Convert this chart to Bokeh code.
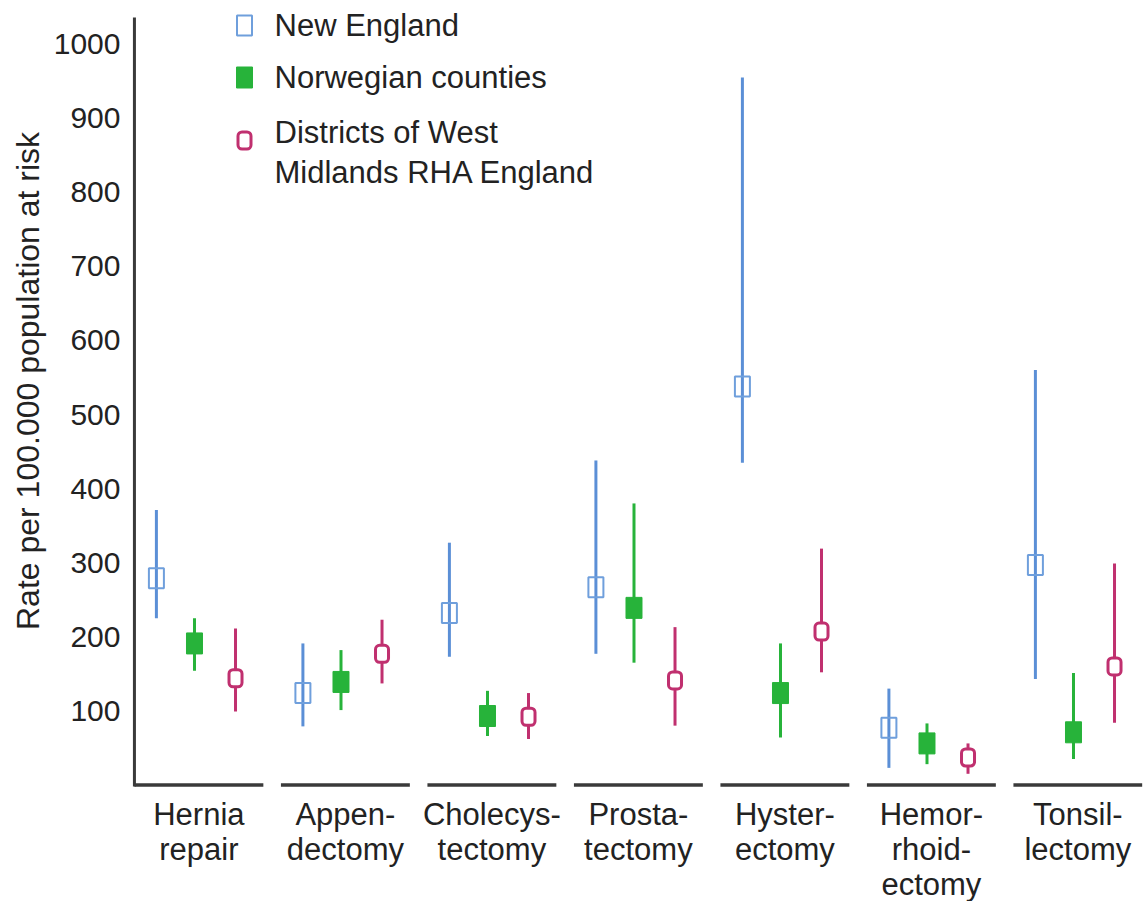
import math
from bokeh.plotting import figure
from bokeh.layouts import row
from bokeh.models import Range1d, FixedTicker, Rect
from bokeh.core.properties import value
from bokeh.embed import file_html
from bokeh.resources import INLINE

# ---------------- data ----------------
categories = ["Hernia\nrepair", "Appen-\ndectomy", "Cholecys-\ntectomy", "Prosta-\ntectomy",
              "Hyster-\nectomy", "Hemor-\nrhoid-\nectomy", "Tonsil-\nlectomy"]
series_names = ["New England", "Norwegian counties", "Districts of West\nMidlands RHA England"]

new_england_mid = [279, 124, 232, 267, 538, 77, 297]
new_england_lo = [225, 79, 173, 177, 435, 23, 143]
new_england_hi = [371, 191, 327, 438, 955, 130, 560]

norway_mid = [191, 139, 93, 239, 124, 56, 71]
norway_lo = [154, 101, 66, 165, 64, 28, 35]
norway_hi = [225, 182, 127, 380, 191, 83, 151]

west_midlands_mid = [144, 177, 92, 141, 207, 37, 160]
west_midlands_lo = [99, 137, 62, 80, 152, 15, 84]
west_midlands_hi = [211, 223, 124, 213, 319, 56, 299]

y_ticks = [100, 200, 300, 400, 500, 600, 700, 800, 900, 1000]
y_title = "Rate per 100.000 population  at risk"

# ---------------- layout ----------------
FONT = "Liberation Sans"
TEXT = "#222222"
AXIS = "#3a3a3a"
BLUE = "#5b8fd6"
GREEN = "#27b33a"
MAGENTA = "#c0306f"

H = 901
TW = 50                    # width of the title strip
W = 1094                   # main figure width
BL, BR = 81, 2
FRAME_LEFT = TW + BL       # page px of the plotting frame's left edge
X0 = -0.46
PX_X = 146.5               # pixels per category
PX_Y = 0.7407              # pixels per unit
BASE_PX = 784.4            # page px of value 0
Y_TOP = BASE_PX / PX_Y
frame_w = W - BL - BR
x_end = X0 + frame_w / PX_X
y_start = Y_TOP - H / PX_Y


def x_at(px):
    return X0 + (px - FRAME_LEFT) / PX_X


def y_at(px):
    return Y_TOP - px / PX_Y


# --- strip holding the vertical axis title ---
t = figure(width=TW, height=H, x_range=Range1d(0, TW), y_range=Range1d(H, 0),
           output_backend="svg", toolbar_location=None,
           min_border_left=0, min_border_right=0, min_border_top=0, min_border_bottom=0)
t.axis.visible = False
t.grid.visible = False
t.outline_line_color = None
t.text(x=[27], y=[376], text=[y_title], angle=math.pi / 2, text_align="center",
       text_baseline="middle", text_font=value(FONT), text_font_size="32px", text_color=TEXT)

# --- main chart ---
p = figure(width=W, height=H, x_range=Range1d(X0, x_end), y_range=Range1d(y_start, Y_TOP),
           output_backend="svg", toolbar_location=None,
           min_border_left=BL, min_border_right=BR, min_border_top=0, min_border_bottom=0)
p.outline_line_color = None
p.xgrid.visible = False
p.ygrid.visible = False
p.xaxis.visible = False

yax = p.yaxis[0]
yax.ticker = FixedTicker(ticks=y_ticks)
yax.axis_line_color = None
yax.major_tick_line_color = None
yax.minor_tick_line_color = None
yax.major_tick_out = 0
yax.major_tick_in = 0
yax.major_label_standoff = 11
yax.major_label_text_font = FONT
yax.major_label_text_font_size = "30px"
yax.major_label_text_color = TEXT

n = len(categories)
half = 0.44

# y axis line and group baselines
p.segment(x0=[-half], y0=[-2], x1=[-half], y1=[1036], line_width=3, line_color=AXIS)
p.segment(x0=[i - half for i in range(n)], y0=[0] * n, x1=[i + half for i in range(n)], y1=[0] * n,
          line_width=3.5, line_color=AXIS)

has_radius = "border_radius" in Rect.properties()

series = [
    (new_england_lo, new_england_mid, new_england_hi, BLUE, -0.29, "open"),
    (norway_lo, norway_mid, norway_hi, GREEN, -0.03, "filled"),
    (west_midlands_lo, west_midlands_mid, west_midlands_hi, MAGENTA, 0.25, "round"),
]


def box(xs, ys, style, color):
    if style == "open":
        p.rect(xs, ys, width=15, height=20, width_units="screen", height_units="screen",
               fill_color=None, line_color="#6f9fdc", line_width=2)
    elif style == "filled":
        p.rect(xs, ys, width=16, height=21, width_units="screen", height_units="screen",
               fill_color=color, line_color=color, line_width=1)
    else:
        kw = {"border_radius": 4} if has_radius else {}
        p.rect(xs, ys, width=13, height=17, width_units="screen", height_units="screen",
               fill_color="white", line_color=color, line_width=3, **kw)


for lo, mid, hi, color, off, style in series:
    xs = [i + off for i in range(n)]
    p.segment(x0=xs, y0=lo, x1=xs, y1=hi, line_width=3, line_color=color)
    box(xs, mid, style, color)

# category labels
p.text(x=list(range(n)), y=[y_at(796)] * n, text=categories, text_align="center",
       text_baseline="top", text_line_height=1.01, text_font=value(FONT),
       text_font_size="31px", text_color=TEXT)

# legend
leg_marker_x = x_at(244)
leg_text_x = x_at(274)
marker_px = [25, 77, 140]
text_px = [25, 77, 152]
styles = ["open", "filled", "round"]
colors = [BLUE, GREEN, MAGENTA]
for k in range(3):
    box([leg_marker_x], [y_at(marker_px[k])], styles[k], colors[k])
p.text(x=[leg_text_x] * 3, y=[y_at(v) for v in text_px], text=series_names,
       text_align="left", text_baseline="middle", text_line_height=1.16,
       text_font=value(FONT), text_font_size="31px", text_color=TEXT)

layout = row(t, p, spacing=0)
open("out.html", "w").write(file_html(layout, INLINE))
